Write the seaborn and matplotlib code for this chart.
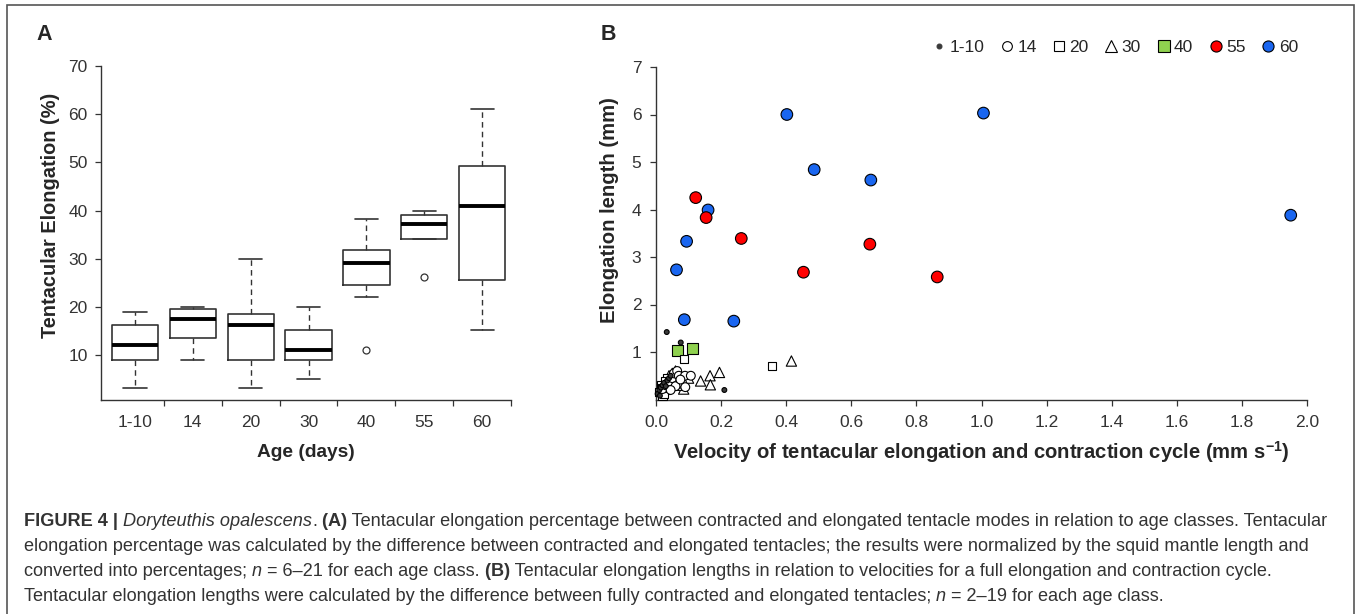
import matplotlib
matplotlib.use("Agg")
import matplotlib.pyplot as plt
from matplotlib.lines import Line2D
from matplotlib.patches import Rectangle
import pandas as pd
import seaborn as sns

# ---- Panel A: box statistics ----
ages = ["1-10", "14", "20", "30", "40", "55", "60"]
whisker_low = [3.1, 9.0, 3.1, 5.1, 22.0, 34.1, 15.1]
q1 = [9.0, 13.45, 9.0, 9.0, 24.5, 34.1, 25.5]
median = [12.1, 17.5, 16.2, 11.0, 29.0, 37.2, 41.0]
q3 = [16.2, 19.6, 18.6, 15.1, 31.7, 39.0, 49.3]
whisker_high = [19.0, 20.0, 30.0, 20.0, 38.2, 40.0, 61.1]
outliers = [[], [], [], [], [11.0], [26.1], []]

# ---- Panel B: velocity (mm s-1) vs elongation length (mm) per age class ----
vel_60 = [0.402, 1.006, 0.486, 0.660, 0.160, 0.094, 0.063, 0.087, 0.239, 1.950]
len_60 = [6.00, 6.03, 4.84, 4.62, 3.99, 3.33, 2.73, 1.68, 1.65, 3.88]
vel_55 = [0.122, 0.154, 0.262, 0.453, 0.657, 0.864]
len_55 = [4.25, 3.83, 3.39, 2.68, 3.27, 2.58]
vel_40 = [0.067, 0.112]
len_40 = [1.04, 1.08]
vel_30 = [0.416, 0.195, 0.166, 0.137, 0.167, 0.085, 0.072, 0.060, 0.050, 0.080, 0.100, 0.040, 0.065]
len_30 = [0.81, 0.57, 0.50, 0.39, 0.31, 0.22, 0.57, 0.60, 0.55, 0.30, 0.45, 0.50, 0.35]
vel_20 = [0.087, 0.357, 0.020, 0.010, 0.030, 0.025, 0.035, 0.040, 0.050, 0.015, 0.028, 0.018]
len_20 = [0.85, 0.70, 0.08, 0.15, 0.20, 0.12, 0.45, 0.35, 0.40, 0.30, 0.38, 0.25]
vel_14 = [0.020, 0.030, 0.040, 0.050, 0.055, 0.065, 0.070, 0.080, 0.090, 0.089, 0.107, 0.060, 0.045, 0.075]
len_14 = [0.22, 0.30, 0.38, 0.45, 0.55, 0.60, 0.50, 0.35, 0.26, 0.50, 0.50, 0.28, 0.20, 0.42]
vel_1_10 = [0.033, 0.076, 0.210, 0.005, 0.010, 0.015, 0.020, 0.025, 0.030, 0.035, 0.040, 0.045, 0.012]
len_1_10 = [1.42, 1.20, 0.20, 0.12, 0.20, 0.25, 0.30, 0.35, 0.28, 0.40, 0.45, 0.50, 0.08]

velocity_ticks = [0.0, 0.2, 0.4, 0.6, 0.8, 1.0, 1.2, 1.4, 1.6, 1.8, 2.0]
length_ticks = [1, 2, 3, 4, 5, 6, 7]
elong_ticks = [10, 20, 30, 40, 50, 60, 70]

W, H = 1357, 614
sns.set_style("ticks")
plt.rcParams["font.family"] = ["Liberation Sans", "DejaVu Sans"]
plt.rcParams["axes.linewidth"] = 1.0
dark = "#333333"

fig = plt.figure(figsize=(W / 100, H / 100), dpi=100)
fig.patch.set_facecolor("white")

# ---------------- Panel A ----------------
axa = fig.add_axes([101 / W, 1 - 400 / H, 410 / W, 334 / H])
stats = []
for i, a in enumerate(ages):
    stats.append(dict(label=a, whislo=whisker_low[i], q1=q1[i], med=median[i],
                      q3=q3[i], whishi=whisker_high[i], fliers=outliers[i]))
axa.bxp(stats, positions=range(len(ages)), widths=0.8, capwidths=0.4,
        boxprops=dict(color=dark, linewidth=1.2),
        whiskerprops=dict(color=dark, linewidth=1.0, linestyle=(0, (4, 3))),
        capprops=dict(color=dark, linewidth=1.2),
        medianprops=dict(color="black", linewidth=2.8),
        flierprops=dict(marker="o", markersize=5, markerfacecolor="none",
                        markeredgecolor=dark, markeredgewidth=0.9))
axa.set_xlim(-0.587, 6.5)
axa.set_ylim(0.66, 70)
axa.set_yticks(elong_ticks)
axa.set_xticks(range(len(ages)))
axa.set_xticklabels(ages)
axa.set_xticks([i + 0.5 for i in range(len(ages))], minor=True)
axa.tick_params(axis="x", which="major", length=0, pad=11, labelsize=12.5, labelcolor=dark)
axa.tick_params(axis="x", which="minor", length=4.5, width=0.9, color=dark)
axa.tick_params(axis="y", length=4.5, width=0.9, color=dark, pad=5, labelsize=12.5, labelcolor=dark)
sns.despine(ax=axa)
for s in ["left", "bottom"]:
    axa.spines[s].set_color(dark)
axa.set_ylabel("Tentacular Elongation (%)", fontsize=14.4, fontweight="bold", va="center")
axa.yaxis.set_label_coords(-0.124, 0.554)
axa.set_xlabel("Age (days)", fontsize=13.8, fontweight="bold", va="center")
axa.xaxis.set_label_coords(0.5, -0.156)

# ---------------- Panel B ----------------
axb = fig.add_axes([656 / W, 1 - 399.5 / H, 651 / W, 332.5 / H])
groups = [("60", vel_60, len_60), ("55", vel_55, len_55), ("40", vel_40, len_40),
          ("30", vel_30, len_30), ("20", vel_20, len_20), ("14", vel_14, len_14),
          ("1-10", vel_1_10, len_1_10)]
frames = [pd.DataFrame({"velocity": v, "length": l, "age": g}) for g, v, l in groups]
dfb = pd.concat(frames, ignore_index=True)

face = {"1-10": "#3a3a3a", "14": "white", "20": "white", "30": "white",
        "40": "#8fd14f", "55": "#ff0000", "60": "#1a66f0"}
marks = {"1-10": "o", "14": "o", "20": "s", "30": "^", "40": "s", "55": "o", "60": "o"}
sizes = {"1-10": 12, "14": 40, "20": 34, "30": 55, "40": 62, "55": 70, "60": 70}

sns.scatterplot(data=dfb, x="velocity", y="length", hue="age", style="age", size="age",
                palette=face, markers=marks, sizes=sizes, edgecolor="black",
                linewidth=0.8, legend=False, ax=axb, zorder=3, clip_on=False)
axb.set_xlim(0, 2.0)
axb.set_ylim(0, 7)
axb.set_xticks(velocity_ticks)
axb.set_xticklabels([f"{t:.1f}" for t in velocity_ticks])
axb.set_yticks(length_ticks)
axb.tick_params(axis="both", length=4.5, width=0.9, color=dark, labelsize=12.5, labelcolor=dark)
axb.tick_params(axis="x", pad=7)
axb.tick_params(axis="y", pad=6)
sns.despine(ax=axb)
for s in ["left", "bottom"]:
    axb.spines[s].set_color(dark)
axb.set_ylabel("Elongation length (mm)", fontsize=14.6, fontweight="bold", va="center")
axb.yaxis.set_label_coords(-0.0707, 0.57)
axb.set_xlabel(r"Velocity of tentacular elongation and contraction cycle (mm s$^{\mathregular{-1}}$)",
               fontsize=14.6, fontweight="bold", va="center")
axb.xaxis.set_label_coords(0.5, -0.158)

leg_ms = {"1-10": 3.5, "14": 7, "20": 6.5, "30": 8, "40": 8, "55": 8, "60": 8}
handles = [Line2D([], [], ls="none", marker=marks[a], markersize=leg_ms[a],
                  markerfacecolor=face[a], markeredgecolor="black" if a != "1-10" else "#3a3a3a",
                  markeredgewidth=0.8) for a in ages]
fig.legend(handles, ages, loc="upper right", bbox_to_anchor=(1298 / W, 1 - 40 / H),
           ncol=7, frameon=False, fontsize=12.5, handletextpad=0.1, columnspacing=0.8,
           handlelength=1.0, borderpad=0, borderaxespad=0)

# panel letters
fig.text(44 / W, 1 - 34 / H, "A", fontsize=15.5, fontweight="bold", ha="center", va="center")
fig.text(608 / W, 1 - 34 / H, "B", fontsize=15.5, fontweight="bold", ha="center", va="center")

# ---------------- Caption ----------------
cap = fig.add_axes([0, 0, 1, 1], zorder=-1)
cap.axis("off")
cap_kw = dict(fontsize=13.1, color=dark)
style = {"n": {}, "b": {"fontweight": "bold"}, "i": {"fontstyle": "italic"}}
caption = [
    [("FIGURE 4 |", "b"), (" Doryteuthis opalescens", "i"), (".", "n"), (" (A)", "b"),
     (" Tentacular elongation percentage between contracted and elongated tentacle modes in relation to age classes. Tentacular", "n")],
    [("elongation percentage was calculated by the difference between contracted and elongated tentacles; the results were normalized by the squid mantle length and", "n")],
    [("converted into percentages;", "n"), (" n", "i"), (" = 6\u201321 for each age class.", "n"), (" (B)", "b"),
     (" Tentacular elongation lengths in relation to velocities for a full elongation and contraction cycle.", "n")],
    [("Tentacular elongation lengths were calculated by the difference between fully contracted and elongated tentacles;", "n"),
     (" n", "i"), (" = 2\u201319 for each age class.", "n")],
]
line_y = [530, 555, 580, 605]
for yline, parts in zip(line_y, caption):
    txt, kind = parts[0]
    t = cap.text(24 / W, 1 - yline / H, txt, transform=fig.transFigure, ha="left",
                 va="bottom", **cap_kw, **style[kind])
    for txt, kind in parts[1:]:
        t = cap.annotate(txt, xy=(1, 0), xycoords=t, ha="left", va="bottom",
                         **cap_kw, **style[kind])

# frame around the whole figure
fig.add_artist(Rectangle((7 / W, -0.05), (1354 - 7) / W, 1.05 - 5 / H, transform=fig.transFigure,
                         fill=False, edgecolor="#555555", linewidth=1.2))

fig.savefig("out.png", dpi=100, facecolor="white")
